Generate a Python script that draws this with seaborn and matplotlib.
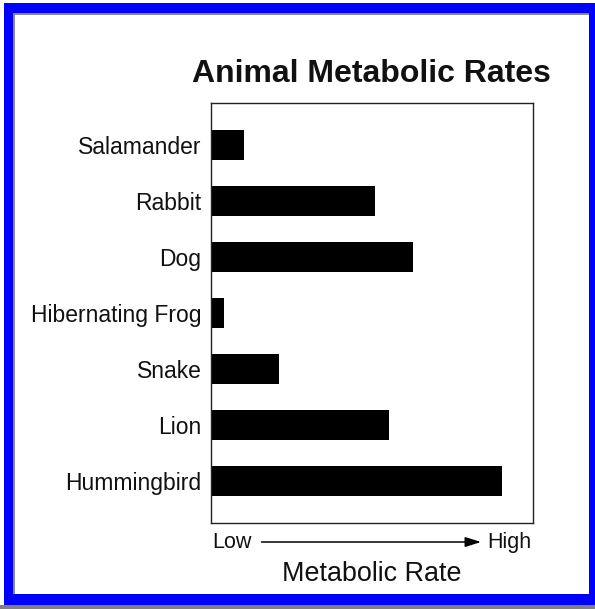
import matplotlib
matplotlib.use("Agg")
import matplotlib.pyplot as plt
from matplotlib.patches import Rectangle
import seaborn as sns
import pandas as pd

animals = ["Salamander", "Rabbit", "Dog", "Hibernating Frog", "Snake", "Lion", "Hummingbird"]
rates = [10.5, 51.2, 63.0, 4.2, 21.4, 55.5, 90.4]
title = "Animal Metabolic Rates"
x_label = "Metabolic Rate"
low_label = "Low"
high_label = "High"

sns.set_style("white")
plt.rcParams["font.family"] = ["Liberation Sans", "DejaVu Sans"]

W, H = 595, 609
fig = plt.figure(figsize=(W / 100, H / 100), dpi=100)
fig.patch.set_facecolor("white")


def fx(x):
    return x / W


def fy(y):
    return 1 - y / H


def rect(x0, y0, x1, y1, color):
    fig.patches.append(Rectangle((fx(x0), fy(y1)), fx(x1) - fx(x0), (y1 - y0) / H,
                                 transform=fig.transFigure, facecolor=color,
                                 edgecolor="none", zorder=-10))


# frame: gray drop strip, blue border, inset gray line, white interior
rect(0, 605, W, H, "#808080")
rect(3.5, 2.7, W, 605, "#0000ff")
rect(13.3, 12.7, 589, 594.3, "#8a8a8a")
rect(15.3, 15.0, 589, 594.3, "white")

df = pd.DataFrame({"animal": animals, "rate": rates})

ax = fig.add_axes([fx(210.5), fy(523), (532.5 - 210.5) / W, (523 - 103) / H])
sns.barplot(data=df, x="rate", y="animal", orient="h", color="black",
            saturation=1, width=0.535, linewidth=0, ax=ax)
ax.set_xlim(0, 100)
ax.set_ylim(6.74, -0.74)
ax.set_xlabel("")
ax.set_ylabel("")
ax.set_xticks([])
ax.tick_params(axis="y", length=0, pad=6.5, labelsize=16.5, labelcolor="#111111")
for s in ax.spines.values():
    s.set_visible(True)
    s.set_color("#222222")
    s.set_linewidth(1.0)
ax.set_facecolor("white")
ax.set_title(title, fontsize=23, fontweight="bold", pad=15, color="#111111")

fig.text(fx(212), fy(548), low_label, ha="left", va="baseline", fontsize=15.5, color="#111111")
fig.text(fx(531.5), fy(548), high_label, ha="right", va="baseline", fontsize=15.5, color="#111111")
fig.text(fx(371.5), fy(581), x_label, ha="center", va="baseline", fontsize=19.4, color="#111111")
ax.annotate("", xy=(fx(481), fy(542)), xytext=(fx(261.5), fy(542)),
            xycoords="figure fraction", textcoords="figure fraction",
            arrowprops=dict(arrowstyle="-|>,head_length=0.95,head_width=0.3",
                            color="black", lw=1.1, shrinkA=0, shrinkB=0))

fig.savefig("out.png", dpi=100)
